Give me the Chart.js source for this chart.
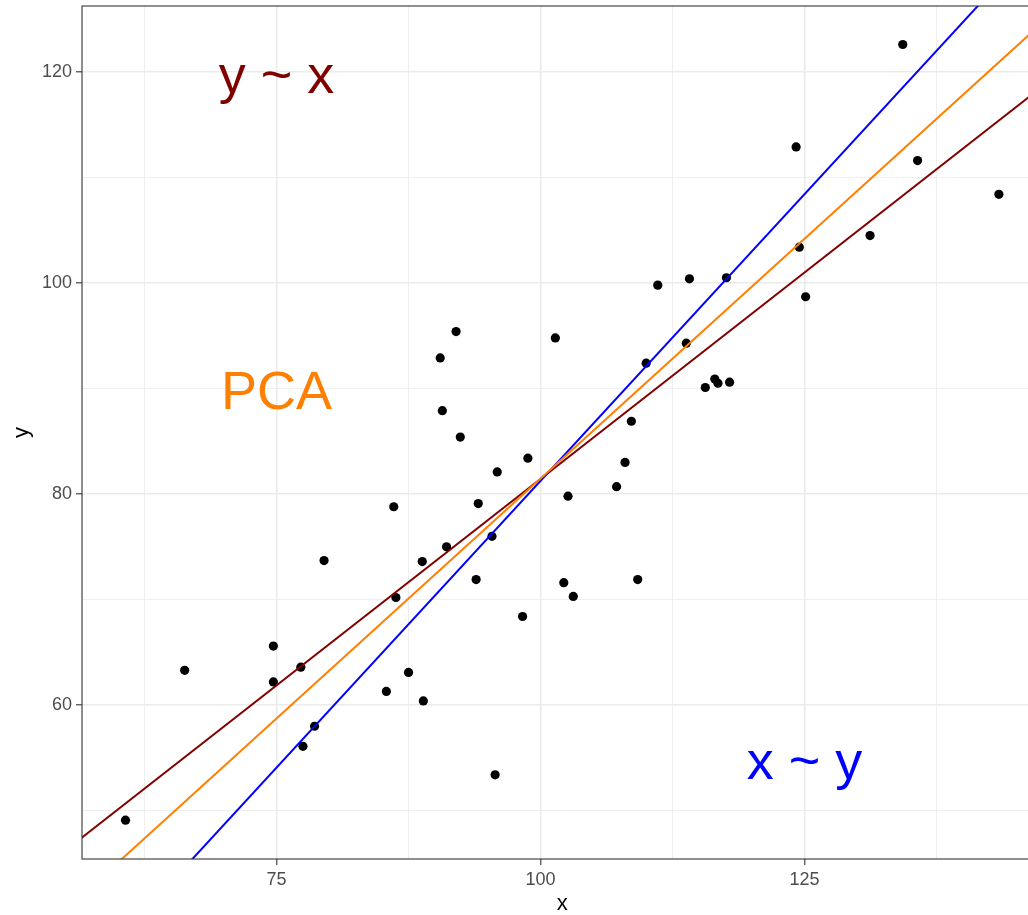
<!DOCTYPE html>
<html>
<head>
<meta charset="utf-8">
<script src="https://cdn.jsdelivr.net/npm/chart.js@4"></script>
<style>
  html, body { margin: 0; padding: 0; background: #fff; overflow: hidden; }
  canvas { display: block; }
</style>
</head>
<body>
<canvas id="chart" width="1047" height="915"></canvas>
<script>
// scatter points
const xValues = [60.7, 66.3, 74.7, 74.7, 77.3, 78.6, 77.5, 79.5, 86.1, 86.3, 85.4, 87.5, 88.8, 88.9, 90.5, 92.0, 90.7, 92.4, 91.1, 94.1, 93.9, 95.4, 95.9, 95.7, 98.8, 98.3, 101.4, 102.6, 102.2, 103.1, 107.2, 108.0, 108.6, 109.2, 110.0, 111.1, 113.8, 114.1, 115.6, 116.5, 116.8, 117.9, 117.6, 124.2, 124.5, 125.1, 131.2, 134.3, 135.7, 143.4];
const yValues = [49.1, 63.3, 65.6, 62.2, 63.6, 58.0, 56.1, 73.7, 78.8, 70.2, 61.3, 63.1, 73.6, 60.4, 92.9, 95.4, 87.9, 85.4, 75.0, 79.1, 71.9, 76.0, 82.1, 53.4, 83.4, 68.4, 94.8, 79.8, 71.6, 70.3, 80.7, 83.0, 86.9, 71.9, 92.4, 99.8, 94.3, 100.4, 90.1, 90.9, 90.5, 90.6, 100.5, 112.9, 103.4, 98.7, 104.5, 122.6, 111.6, 108.4];

// fitted lines, two end points each
const yOnXLine = [[56.0, 47.0], [148.0, 119.0]];
const xOnYLine = [[66.0, 44.3], [142.0, 126.9]];
const pcaLine = [[60.0, 45.1], [148.0, 125.1]];

// text labels inside the panel
const noteText = ["y ~ x", "PCA", "x ~ y"];
const noteX = [75, 75, 125];
const noteY = [120, 90, 55];
const noteColor = ["#800000", "#FF7F00", "#0000FF"];

// axis ticks (major carry labels, minor only grid)
const xMajor = [75, 100, 125];
const xMinor = [62.5, 87.5, 112.5, 137.5];
const yMajor = [60, 80, 100, 120];
const yMinor = [50, 70, 90, 110];

const FONT = "'Liberation Sans', Arial, Helvetica, sans-serif";

const toPts = (arr) => arr.map(p => ({ x: p[0], y: p[1] }));
const points = xValues.map((x, i) => ({ x: x, y: yValues[i] }));

const lineSet = (data, color) => ({
  type: "line",
  data: toPts(data),
  borderColor: color,
  borderWidth: 2,
  pointRadius: 0,
  showLine: true,
  fill: false,
  clip: 0,
});

const setTicks = (major, minor) => (scale) => {
  const all = major.concat(minor).sort((a, b) => a - b);
  scale.ticks = all.map(v => ({ value: v, major: major.includes(v) }));
};
const isMajor = (ctx) => ctx.tick && ctx.tick.major;

const panelPlugin = {
  id: "panel",
  afterDraw(chart) {
    const { ctx, chartArea: a, scales } = chart;
    ctx.save();
    // labels
    ctx.textAlign = "center";
    ctx.textBaseline = "middle";
    ctx.font = "54px " + FONT;
    noteText.forEach((t, i) => {
      ctx.fillStyle = noteColor[i];
      ctx.fillText(t, scales.x.getPixelForValue(noteX[i]), scales.y.getPixelForValue(noteY[i]) + 6);
    });
    // panel border
    ctx.strokeStyle = "#333333";
    ctx.lineWidth = 1.1;
    ctx.strokeRect(a.left, a.top, a.right - a.left, a.bottom - a.top);
    ctx.restore();
  },
};

const gridCfg = {
  color: "#EBEBEB",
  lineWidth: (ctx) => (isMajor(ctx) ? 1.6 : 0.8),
  tickColor: (ctx) => (isMajor(ctx) ? "#333333" : "rgba(0,0,0,0)"),
  tickLength: 6,
  tickWidth: 1.1,
  drawTicks: true,
};

new Chart(document.getElementById("chart"), {
  type: "scatter",
  data: {
    datasets: [
      lineSet(pcaLine, "#FF7F00"),
      lineSet(xOnYLine, "#0000FF"),
      lineSet(yOnXLine, "#800000"),
      {
        data: points,
        backgroundColor: "#000000",
        borderColor: "#000000",
        borderWidth: 0,
        pointRadius: 4.6,
        clip: false,
      },
    ],
  },
  options: {
    responsive: false,
    devicePixelRatio: 1,
    animation: false,
    events: [],
    layout: { padding: { top: 6, right: 2, left: 0, bottom: 0 } },
    plugins: { legend: { display: false }, tooltip: { enabled: false } },
    scales: {
      x: {
        type: "linear",
        min: 56.58,
        max: 147.52,
        afterBuildTicks: setTicks(xMajor, xMinor),
        afterFit: (s) => { s.height = 56; s.paddingLeft = 0; s.paddingRight = 0; },
        border: { display: false },
        grid: gridCfg,
        ticks: {
          autoSkip: false,
          maxRotation: 0,
          padding: 4,
          color: "#4D4D4D",
          font: { family: FONT, size: 18 },
          callback: (v) => (xMajor.includes(v) ? String(v) : ""),
        },
        title: {
          display: true,
          text: "x",
          color: "#000000",
          font: { family: FONT, size: 22, lineHeight: 1.0 },
          padding: { top: 0, bottom: 0 },
        },
      },
      y: {
        type: "linear",
        min: 45.42,
        max: 126.25,
        afterBuildTicks: setTicks(yMajor, yMinor),
        afterFit: (s) => { s.width = 82; s.paddingTop = 0; s.paddingBottom = 0; },
        border: { display: false },
        grid: gridCfg,
        ticks: {
          autoSkip: false,
          padding: 4,
          color: "#4D4D4D",
          font: { family: FONT, size: 18 },
          callback: (v) => (yMajor.includes(v) ? String(v) : ""),
        },
        title: {
          display: true,
          text: "y",
          color: "#000000",
          font: { family: FONT, size: 22, lineHeight: 1.2 },
          padding: { top: 9, bottom: 0 },
        },
      },
    },
  },
  plugins: [panelPlugin],
});
</script>
</body>
</html>
